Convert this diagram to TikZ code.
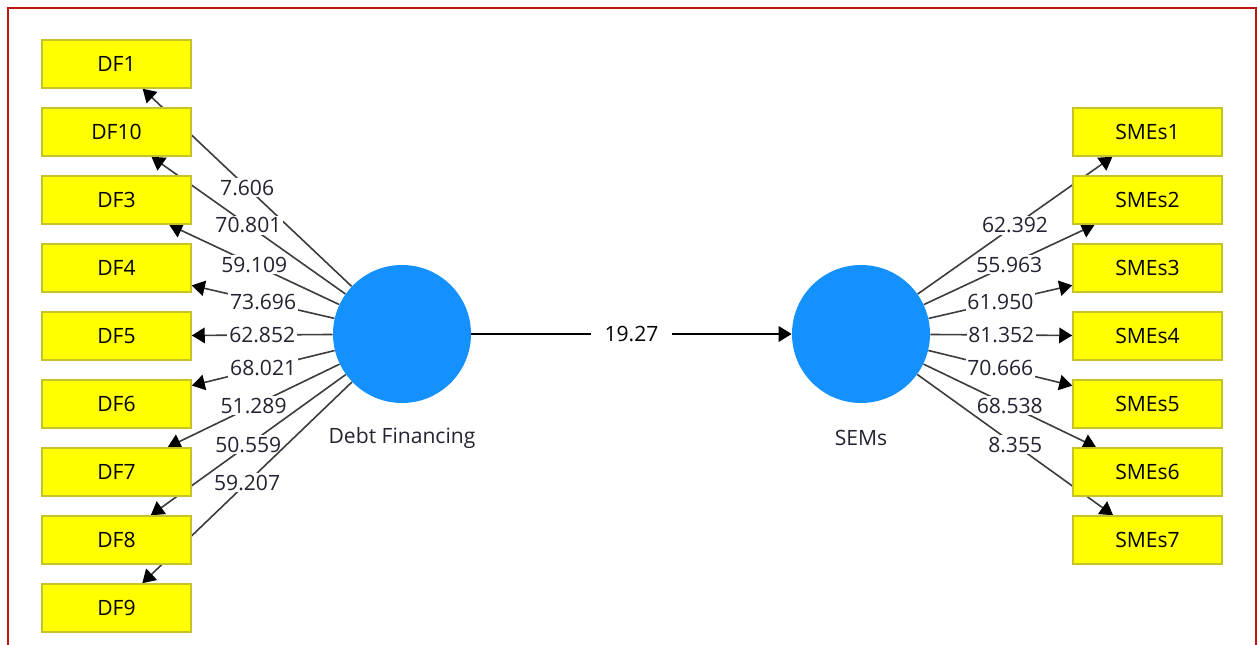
\documentclass[tikz,border=0pt]{standalone}
\usepackage{fontspec}
\setmainfont{Open Sans}
\usetikzlibrary{arrows.meta,backgrounds}

\definecolor{indyellow}{RGB}{255,255,0}
\definecolor{indborder}{RGB}{196,196,40}
\definecolor{lvblue}{RGB}{20,145,252}
\definecolor{pathgray}{RGB}{60,60,60}
\definecolor{numgray}{RGB}{35,35,50}
\definecolor{framered}{RGB}{192,20,20}

\tikzset{
  indicator/.style={draw=indborder, fill=indyellow, line width=0.3mm,
    minimum width=29.8mm, minimum height=9.6mm, inner sep=0pt,
    font=\fontsize{12}{14}\selectfont},
  latent/.style={circle, fill=lvblue, minimum size=27.6mm, inner sep=0pt},
  loading/.style={draw=pathgray, line width=0.32mm,
    -{Triangle[length=2.6mm,width=3.1mm,color=black]}},
  tval/.style={fill=white, inner sep=1pt, text=numgray,
    font=\fontsize{12}{14}\selectfont}
}

\begin{document}
\begin{tikzpicture}[x=0.2mm,y=-0.2mm]
\useasboundingbox (0,0) rectangle (1258,645);
\draw [framered, line width=0.35mm] (8,660) -- (8,8) -- (1256,8) -- (1256,660);

% latent variables
\node [latent] (DebtFin) at (402,334) {};
\node [latent] (SEMs) at (861,334) {};
\node [text=numgray, font=\fontsize{12}{14}\selectfont] (DebtFinName) at (402,438) {Debt Financing};
\node [text=numgray, font=\fontsize{12}{14}\selectfont] (SEMsName) at (861,438) {SEMs};

% indicators
\foreach \n [count=\i from 0] in {DF1,DF10,DF3,DF4,DF5,DF6,DF7,DF8,DF9}{
\node [indicator] (\n) at (116.5,64+68*\i) {\n};
}
\foreach \i in {1,...,7}{
\node [indicator] (SMEs\i) at (1147.5,64+68*\i) {SMEs\i};
}

% outer loadings, kept behind the boxes
\begin{pgfonlayer}{background}
\foreach \n/\v in {DF1/7.606,DF10/70.801,DF3/59.109,DF4/73.696,DF5/62.852,DF6/68.021,DF7/51.289,DF8/50.559,DF9/59.207}{
\draw [loading] (DebtFin) -- node [tval] {\v} (\n);
}
\foreach \i/\v in {1/62.392,2/55.963,3/61.950,4/81.352,5/70.666,6/68.538,7/8.355}{
\draw [loading] (SEMs) -- node [tval] {\v} (SMEs\i);
}
\end{pgfonlayer}

% structural path
\draw [loading, draw=black, line width=0.35mm] (DebtFin) -- node [tval, text=black, inner xsep=2.8mm] {19.27} (SEMs);
\end{tikzpicture}
\end{document}
